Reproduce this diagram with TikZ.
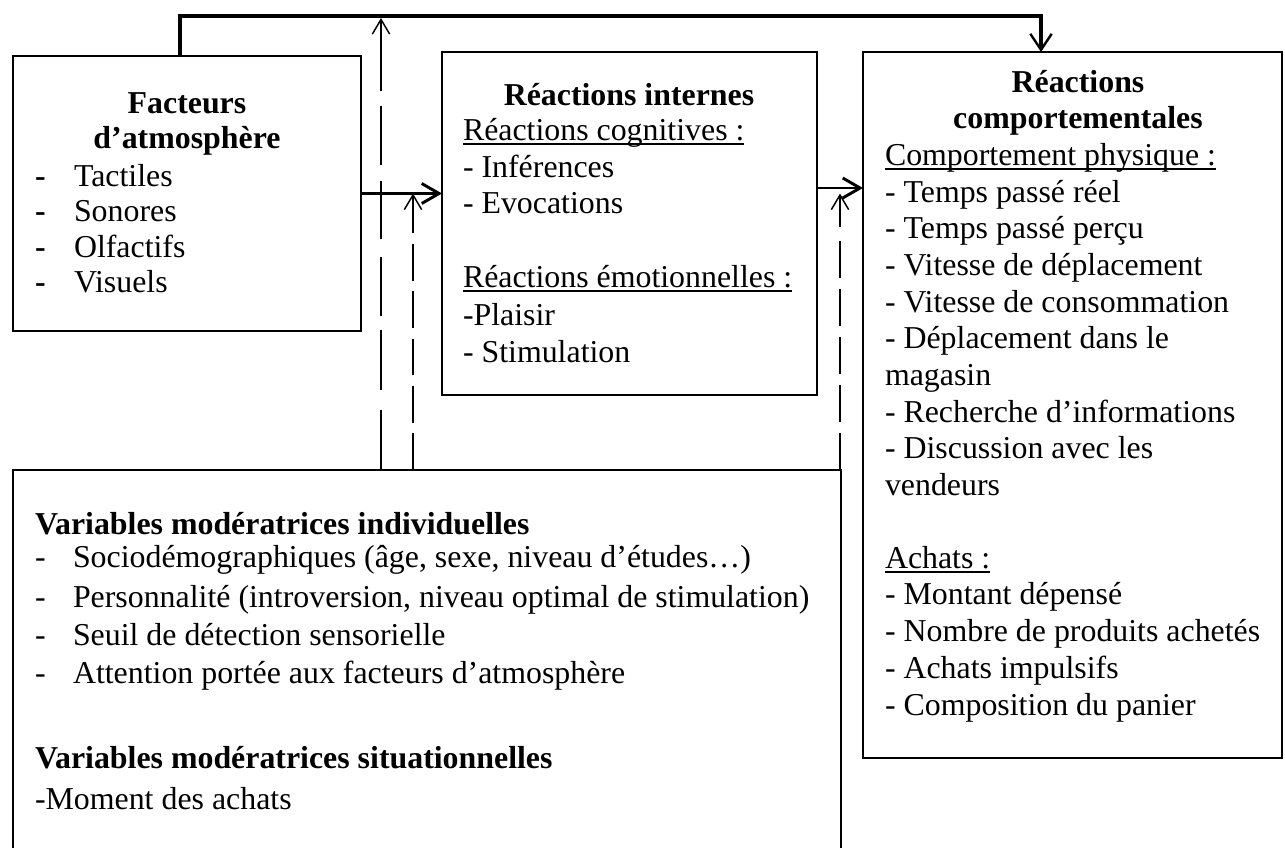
\documentclass[tikz,border=0pt]{standalone}
\usepackage{fontspec}
\setmainfont{Liberation Serif}
\usetikzlibrary{arrows.meta}
\newcommand\fsz{\fontsize{23.9pt}{28pt}\selectfont}
\newcommand\ulx[1]{\setbox0\hbox{#1}\rlap{\rule[-3.6pt]{\wd0}{1.3pt}}\box0}
\tikzset{
  box/.style={draw, line width=1.6pt, inner sep=0pt, outer sep=0pt, anchor=north west},
  tl/.style={anchor=base west, inner sep=0pt, outer sep=0pt, font=\fsz},
  tc/.style={anchor=base, inner sep=0pt, outer sep=0pt, font=\fsz\bfseries},
  flow/.style={line width=1.7pt, -{Straight Barb[length=13pt,width=15pt,line width=2.2pt]}},
  topline/.style={line width=2.5pt, -{Straight Barb[length=12pt,width=16pt,line width=1.8pt]}},
  modarrow/.style={line width=1.4pt, -{Straight Barb[length=11pt,width=13pt,line width=1.1pt]}},
}
\begin{document}
\begin{tikzpicture}[x=0.75pt,y=-0.75pt]
\useasboundingbox (0,0) rectangle (1285,847);
\clip (0,0) rectangle (1285,847);
% boxes
\node[box, minimum width=261pt, minimum height=206.25pt] (b1) at (13,56) {};
\node[box, minimum width=281.25pt, minimum height=257.25pt] (b2) at (442,52) {};
\node[box, minimum width=314.25pt, minimum height=529.5pt] (b3) at (863,52) {};
\node[box, minimum width=621pt, minimum height=322.5pt] (b4) at (13,470) {};
% helper coordinates
\coordinate (topL) at (180,16);
\coordinate (topR) at (1041,16);
\coordinate (lvl2) at (0,188);
\coordinate (d1) at (381,18);
\coordinate (d2) at (413,0);
\coordinate (d3) at (840,0);
% connectors
\draw[topline] (b1.north -| topL) -- (topL) -- (topR) -- (b3.north -| topR);
\draw[flow] (b1.east) -- (b1.east -| b2.west);
\draw[flow] (b2.east |- lvl2) -- (b3.west |- lvl2);
\draw[modarrow, dash pattern=on 45pt off 15pt on 45pt off 10.5pt on 44pt off 13.5pt on 44pt off 12pt on 44pt off 11pt on 70pt off 1pt] (b4.north -| d1) -- (d1);
\draw[modarrow, dash pattern=on 27.5pt off 8pt on 27.5pt off 8pt on 27.5pt off 8pt on 27.5pt off 8pt on 27.5pt off 8pt on 40pt off 1pt] (b4.north -| d2) -- (d2 |- b1.east);
\draw[modarrow, dash pattern=on 28pt off 8pt on 28pt off 8pt on 28pt off 8pt on 28pt off 8pt on 28pt off 10pt on 40pt off 1pt] (b4.north -| d3) -- (d3 |- b1.east);
% box 1 text
\node[tc] (h1a) at (187,113) {Facteurs};
\node[tc] (h1b) at (187,148.5) {d’atmosphère};
\node[tl] (m1) at (35,186) {\bfseries -};
\node[tl] (m2) at (35,221.5) {\bfseries -};
\node[tl] (m3) at (35,257) {\bfseries -};
\node[tl] (m4) at (35,292.5) {\bfseries -};
\node[tl] (f1) at (74,186) {Tactiles};
\node[tl] (f2) at (74,221.5) {Sonores};
\node[tl] (f3) at (74,257) {Olfactifs};
\node[tl] (f4) at (74,292.5) {Visuels};
% box 2 text
\node[tc] (h2) at (629,105) {Réactions internes};
\node[tl] (c0) at (463,140) {\ulx{Réactions cognitives :}};
\node[tl] (c1) at (463,177) {- Inférences};
\node[tl] (c2) at (463,213) {- Evocations};
\node[tl] (e0) at (463,287) {\ulx{Réactions émotionnelles :}};
\node[tl] (e1) at (463,325) {-Plaisir};
\node[tl] (e2) at (463,362) {- Stimulation};
% box 3 text
\node[tc] (h3a) at (1078,92) {Réactions};
\node[tc] (h3b) at (1078,128) {comportementales};
\node[tl] (p0) at (885,165) {\ulx{Comportement physique :}};
\node[tl] (p1) at (885,202) {- Temps passé réel};
\node[tl] (p2) at (885,238) {- Temps passé perçu};
\node[tl] (p3) at (885,275) {- Vitesse de déplacement};
\node[tl] (p4) at (885,312) {- Vitesse de consommation};
\node[tl] (p5) at (885,348) {- Déplacement dans le};
\node[tl] (p6) at (885,385) {magasin};
\node[tl] (p7) at (885,422) {- Recherche d’informations};
\node[tl] (p8) at (885,458) {- Discussion avec les};
\node[tl] (p9) at (885,495) {vendeurs};
\node[tl] (a0) at (885,568) {\ulx{Achats :}};
\node[tl] (a1) at (885,604) {- Montant dépensé};
\node[tl] (a2) at (885,641) {- Nombre de produits achetés};
\node[tl] (a3) at (885,678) {- Achats impulsifs};
\node[tl] (a4) at (885,715) {- Composition du panier};
% box 4 text
\node[tl, font=\fsz\bfseries] (v0) at (35,534) {Variables modératrices individuelles};
\node[tl] (n1) at (35,567) {-};
\node[tl] (n2) at (35,607) {-};
\node[tl] (n3) at (35,645) {-};
\node[tl] (n4) at (35,683) {-};
\node[tl] (v1) at (73,567) {Sociodémographiques (âge, sexe, niveau d’études…)};
\node[tl] (v2) at (73,607) {Personnalité (introversion, niveau optimal de stimulation)};
\node[tl] (v3) at (73,645) {Seuil de détection sensorielle};
\node[tl] (v4) at (73,683) {Attention portée aux facteurs d’atmosphère};
\node[tl, font=\fsz\bfseries] (s0) at (35,768) {Variables modératrices situationnelles};
\node[tl] (s1) at (35,809) {-Moment des achats};
\end{tikzpicture}
\end{document}
